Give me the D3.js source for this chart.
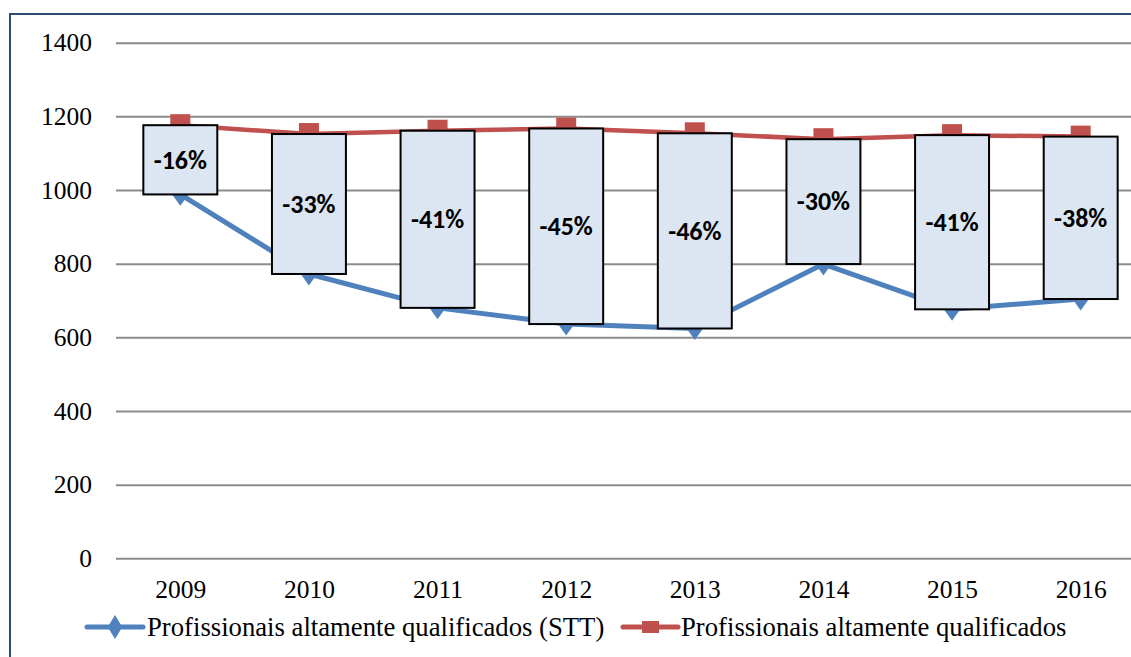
<!DOCTYPE html>
<html>
<head>
<meta charset="utf-8">
<script src="https://cdn.jsdelivr.net/npm/d3@7"></script>
<style>
  body { margin: 0; background: #fff; }
  svg { display: block; }
  svg text { font-family: "Liberation Serif", serif; font-size: 25.5px; }
  svg text.legend-text { font-size: 26.7px; }
  svg text.pct { font-family: Carlito, sans-serif; font-weight: bold; font-size: 26px; }
</style>
</head>
<body>
<svg id="chart" width="1131" height="657" font-family="Liberation Serif"></svg>
<script>
// Chart data
const years = ["2009", "2010", "2011", "2012", "2013", "2014", "2015", "2016"];
const sttValues = [988, 772, 680, 636, 624, 799, 676, 704];
const totalValues = [1176, 1152, 1161, 1167, 1154, 1138, 1149, 1145];
const diffLabels = ["-16%", "-33%", "-41%", "-45%", "-46%", "-30%", "-41%", "-38%"];
const yTicks = [0, 200, 400, 600, 800, 1000, 1200, 1400];
const seriesNames = ["Profissionais altamente qualificados (STT)", "Profissionais altamente qualificados"];

const blue = "#4f81bd";
const red = "#c0504d";

const svg = d3.select("#chart");

// outer frame, runs off the right and bottom of the picture
svg.append("rect")
  .attr("x", 10).attr("y", 14)
  .attr("width", 1160).attr("height", 700)
  .attr("fill", "#fff")
  .attr("stroke", "#2c4d75")
  .attr("stroke-width", 2);

const x = d3.scalePoint()
  .domain(years)
  .range([116, 1145])
  .padding(0.5);

const y = d3.scaleLinear()
  .domain([0, 1400])
  .range([558.3, 42.7]);

// gridlines + y labels
const yAxis = d3.axisLeft(y)
  .tickValues(yTicks)
  .tickSize(-(1145 - 116))
  .tickPadding(24)
  .tickFormat(d3.format("d"));

const gy = svg.append("g")
  .attr("transform", "translate(116,0)")
  .call(yAxis)
  .attr("font-family", null)
  .attr("font-size", null);
gy.select(".domain").remove();
gy.selectAll(".tick line")
  .attr("stroke", "#8c8c8c")
  .attr("stroke-width", 2);
gy.selectAll(".tick text")
  .attr("fill", "#000");

// x labels
const xAxis = d3.axisBottom(x).tickSize(0).tickPadding(22);
const gx = svg.append("g")
  .attr("transform", "translate(0,558.3)")
  .call(xAxis)
  .attr("font-family", null)
  .attr("font-size", null);
gx.select(".domain").remove();
gx.selectAll(".tick text")
  .attr("fill", "#000");

// lines
const line = d3.line()
  .x((d, i) => x(years[i]))
  .y(d => y(d));

svg.append("path")
  .datum(sttValues)
  .attr("d", line)
  .attr("fill", "none")
  .attr("stroke", blue)
  .attr("stroke-width", 5)
  .attr("stroke-linejoin", "round");

svg.append("path")
  .datum(totalValues)
  .attr("d", line)
  .attr("fill", "none")
  .attr("stroke", red)
  .attr("stroke-width", 4.5)
  .attr("stroke-linejoin", "round");

// markers
const diamond = d3.symbol().type(d3.symbolDiamond).size(150);
svg.selectAll(".stt-marker")
  .data(sttValues)
  .enter()
  .append("path")
  .attr("class", "stt-marker")
  .attr("d", diamond)
  .attr("transform", (d, i) => `translate(${x(years[i])},${y(d)}) scale(1.25,1)`)
  .attr("fill", blue);

svg.selectAll(".total-marker")
  .data(totalValues)
  .enter()
  .append("rect")
  .attr("class", "total-marker")
  .attr("x", (d, i) => x(years[i]) - 10)
  .attr("y", d => y(d) - 11)
  .attr("width", 20)
  .attr("height", 22)
  .attr("fill", red);

// up-down bars between the two series
const barW = x.step() * 0.575;
const bars = svg.selectAll(".updown")
  .data(years)
  .enter()
  .append("g")
  .attr("class", "updown");

bars.append("rect")
  .attr("x", d => x(d) - barW / 2)
  .attr("y", (d, i) => y(totalValues[i]))
  .attr("width", barW)
  .attr("height", (d, i) => y(sttValues[i]) - y(totalValues[i]))
  .attr("fill", "#dce6f2")
  .attr("stroke", "#000")
  .attr("stroke-width", 2);

bars.append("text")
  .attr("class", "pct")
  .attr("x", d => x(d))
  .attr("y", (d, i) => (y(sttValues[i]) + y(totalValues[i])) / 2)
  .attr("text-anchor", "middle")
  .attr("dy", "0.34em")
  .attr("fill", "#000")
  .text((d, i) => diffLabels[i]);

// legend
const legend = svg.append("g").attr("transform", "translate(0,627)");

const lg1 = legend.append("g").attr("transform", "translate(87,0)");
lg1.append("line")
  .attr("x1", 0).attr("x2", 56)
  .attr("stroke", blue).attr("stroke-width", 5).attr("stroke-linecap", "round");
lg1.append("path")
  .attr("d", diamond)
  .attr("transform", "translate(28,0) scale(1.1,1.05)")
  .attr("fill", blue);
lg1.append("text")
  .attr("class", "legend-text")
  .attr("x", 60).attr("dy", "0.32em")
  .text(seriesNames[0]);

const lg2 = legend.append("g").attr("transform", "translate(623,0)");
lg2.append("line")
  .attr("x1", 0).attr("x2", 55)
  .attr("stroke", red).attr("stroke-width", 5).attr("stroke-linecap", "round");
lg2.append("rect")
  .attr("x", 19).attr("y", -6)
  .attr("width", 17).attr("height", 12)
  .attr("fill", red);
lg2.append("text")
  .attr("class", "legend-text")
  .attr("x", 58).attr("dy", "0.32em")
  .text(seriesNames[1]);
</script>
</body>
</html>
